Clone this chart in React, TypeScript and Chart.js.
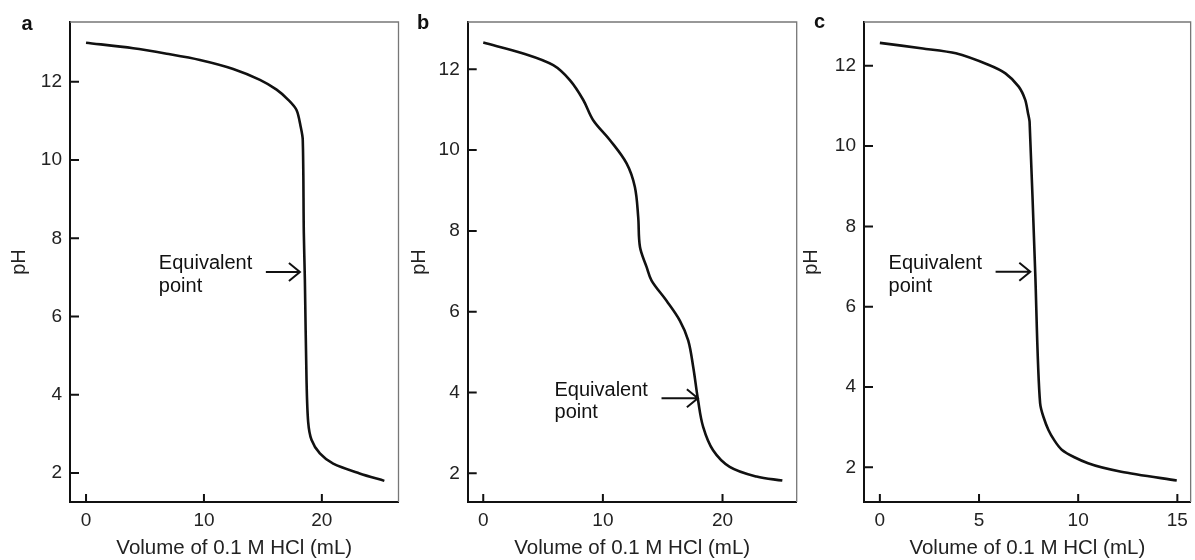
import React, { useEffect, useRef } from "react";
import { Chart, registerables } from "chart.js";
Chart.register(...registerables);

const FONT = "Arial, 'Liberation Sans', Helvetica, sans-serif";

// Panel a
const VOL_A = [0, 4.0, 6.84, 9.66, 12.48, 14.75, 16.16, 17.15, 17.85, 18.2, 18.38, 18.47, 18.56, 18.7, 18.84, 19.12, 19.83, 20.96, 23.2, 25.3];
const PH_A = [13.0, 12.86, 12.72, 12.56, 12.33, 12.05, 11.8, 11.54, 11.28, 10.86, 10.52, 8.14, 6.93, 4.38, 3.3, 2.85, 2.5, 2.24, 1.99, 1.8];
// Panel b
const VOL_B = [0, 3.34, 5.85, 7.24, 8.36, 9.19, 10.58, 11.98, 12.67, 12.95, 13.1, 13.65, 14.07, 15.32, 16.43, 17.13, 17.55, 17.96, 18.38, 19.21, 20.6, 22.84, 25.0];
const PH_B = [12.66, 12.39, 12.1, 11.73, 11.24, 10.74, 10.25, 9.67, 9.09, 8.35, 7.6, 7.11, 6.77, 6.27, 5.78, 5.29, 4.63, 3.8, 3.15, 2.57, 2.16, 1.92, 1.82];
// Panel c
const VOL_C = [0, 2.17, 3.83, 5.5, 6.33, 7.0, 7.33, 7.47, 7.55, 7.835, 8.08, 8.5, 9.17, 10.5, 12.17, 14.97];
const PH_C = [12.57, 12.43, 12.31, 12.02, 11.81, 11.48, 11.15, 10.82, 10.6, 6.83, 3.6, 2.93, 2.44, 2.1, 1.89, 1.67];

const Y_TICKS = [2, 4, 6, 8, 10, 12];
const X_TICKS_AB = [0, 10, 20];
const X_TICKS_C = [0, 5, 10, 15];
const X_TITLE = "Volume of 0.1 M HCl (mL)";
const Y_TITLE = "pH";
const EQ_LABEL = ["Equivalent", "point"];
// equivalence-point arrows (data coordinates)
const EQ_A = { tipX: 18.14, tailX: 15.25, y: 7.14 };
const EQ_B = { tipX: 17.94, tailX: 14.9, y: 3.86 };
const EQ_C = { tipX: 7.585, tailX: 5.835, y: 6.87 };

type Panel = {
  letter: string;
  vol: number[];
  ph: number[];
  xTicks: number[];
  xMin: number; xMax: number; yMin: number; yMax: number;
  eq: { tipX: number; tailX: number; y: number };
  left: number; width: number; yAxisWidth: number; padRight: number;
  yTitlePad: number; letterX: number; letterY: number; tension: number;
};

const PANELS: Panel[] = [
  { letter: "a", vol: VOL_A, ph: PH_A, xTicks: X_TICKS_AB, xMin: -1.36, xMax: 26.5, yMin: 1.26, yMax: 13.53, eq: EQ_A,
    left: 0, width: 400, yAxisWidth: 70, padRight: 1.5, yTitlePad: 9, letterX: 27, letterY: 24, tension: 0.3 },
  { letter: "b", vol: VOL_B, ph: PH_B, xTicks: X_TICKS_AB, xMin: -1.3, xMax: 26.2, yMin: 1.29, yMax: 13.17, eq: EQ_B,
    left: 400, width: 400, yAxisWidth: 67.7, padRight: 3.3, yTitlePad: 9, letterX: 23, letterY: 23.5, tension: 0.35 },
  { letter: "c", vol: VOL_C, ph: PH_C, xTicks: X_TICKS_C, xMin: -0.8, xMax: 15.67, yMin: 1.136, yMax: 13.09, eq: EQ_C,
    left: 800, width: 395, yAxisWidth: 64, padRight: 2, yTitlePad: 1.5, letterX: 19.5, letterY: 22.5, tension: 0.25 },
];

const framePlugin = {
  id: "frame",
  beforeDatasetsDraw(chart: any) {
    const { ctx, chartArea: a } = chart;
    ctx.save();
    ctx.strokeStyle = "#777";
    ctx.lineWidth = 1.3;
    ctx.beginPath();
    ctx.moveTo(a.left, a.top);
    ctx.lineTo(a.right, a.top);
    ctx.lineTo(a.right, a.bottom);
    ctx.stroke();
    ctx.restore();
  },
  afterDatasetsDraw(chart: any, _args: any, opts: any) {
    const { ctx, chartArea: a, scales } = chart;
    const xs = scales.x, ys = scales.y;
    ctx.save();
    ctx.strokeStyle = "#111";
    ctx.lineWidth = 2;
    ctx.beginPath();
    ys.ticks.forEach((t: any) => {
      const py = ys.getPixelForValue(t.value);
      ctx.moveTo(a.left, py);
      ctx.lineTo(a.left + 9, py);
    });
    xs.ticks.forEach((t: any) => {
      const px = xs.getPixelForValue(t.value);
      ctx.moveTo(px, a.bottom);
      ctx.lineTo(px, a.bottom - 8);
    });
    ctx.stroke();

    // arrow
    const eq = opts.eq;
    const tip = xs.getPixelForValue(eq.tipX);
    const tail = xs.getPixelForValue(eq.tailX);
    const py = ys.getPixelForValue(eq.y);
    ctx.lineWidth = 2;
    ctx.beginPath();
    ctx.moveTo(tail, py);
    ctx.lineTo(tip, py);
    ctx.moveTo(tip - 11, py - 9);
    ctx.lineTo(tip, py);
    ctx.lineTo(tip - 11, py + 9);
    ctx.stroke();

    ctx.fillStyle = "#111";
    ctx.font = `20px ${FONT}`;
    ctx.textAlign = "left";
    ctx.textBaseline = "alphabetic";
    ctx.fillText(EQ_LABEL[0], tail - 107, py - 2.5);
    ctx.fillText(EQ_LABEL[1], tail - 107, py + 20);

    // panel letter
    ctx.font = `bold 20px ${FONT}`;
    ctx.textAlign = "center";
    ctx.textBaseline = "middle";
    ctx.fillText(opts.letter, opts.letterX, opts.letterY);
    ctx.restore();
  },
};

function PanelChart({ p }: { p: Panel }) {
  const ref = useRef<HTMLCanvasElement | null>(null);
  useEffect(() => {
    if (!ref.current) return;
    const data = p.vol.map((v, i) => ({ x: v, y: p.ph[i] }));
    const chart = new Chart(ref.current, {
      type: "line",
      data: {
        datasets: [
          {
            data,
            borderColor: "#111",
            borderWidth: 2.6,
            pointRadius: 0,
            fill: false,
            tension: p.tension,
          } as any,
        ],
      },
      options: {
        animation: false,
        responsive: false,
        maintainAspectRatio: false,
        events: [],
        layout: { padding: { left: 0, right: p.padRight, top: 22, bottom: 0 } },
        plugins: {
          legend: { display: false },
          tooltip: { enabled: false },
          frame: { eq: p.eq, letter: p.letter, letterX: p.letterX, letterY: p.letterY },
        } as any,
        scales: {
          x: {
            type: "linear",
            min: p.xMin,
            max: p.xMax,
            afterBuildTicks: (s: any) => { s.ticks = p.xTicks.map((v) => ({ value: v })); },
            afterFit: (s: any) => { s.height = 58; },
            grid: { display: false, drawTicks: false },
            border: { display: true, color: "#111", width: 2 },
            ticks: { font: { family: FONT, size: 19 }, color: "#222", padding: 7, maxRotation: 0, autoSkip: false },
            title: { display: true, text: X_TITLE, color: "#222", font: { family: FONT, size: 20.5, lineHeight: 1 }, padding: { top: 0, bottom: 1.5 } },
          },
          y: {
            type: "linear",
            min: p.yMin,
            max: p.yMax,
            afterBuildTicks: (s: any) => { s.ticks = Y_TICKS.map((v) => ({ value: v })); },
            afterFit: (s: any) => { s.width = p.yAxisWidth; },
            grid: { display: false, drawTicks: false },
            border: { display: true, color: "#111", width: 2 },
            ticks: { font: { family: FONT, size: 19 }, color: "#222", padding: 8, autoSkip: false },
            title: { display: true, text: Y_TITLE, color: "#222", font: { family: FONT, size: 20, lineHeight: 1 }, padding: { top: p.yTitlePad, bottom: 0 } },
          },
        },
      } as any,
      plugins: [framePlugin as any],
    });
    return () => chart.destroy();
  }, [p]);
  return (
    <div style={{ position: "absolute", left: p.left, top: 0, width: p.width, height: 560 }}>
      <canvas ref={ref} width={p.width} height={560} style={{ display: "block", width: p.width, height: 560 }} />
    </div>
  );
}

export default function App() {
  return (
    <div style={{ position: "absolute", left: 0, top: 0, width: 1195, height: 560, background: "#fff", overflow: "hidden" }}>
      {PANELS.map((p) => (
        <PanelChart key={p.letter} p={p} />
      ))}
    </div>
  );
}
